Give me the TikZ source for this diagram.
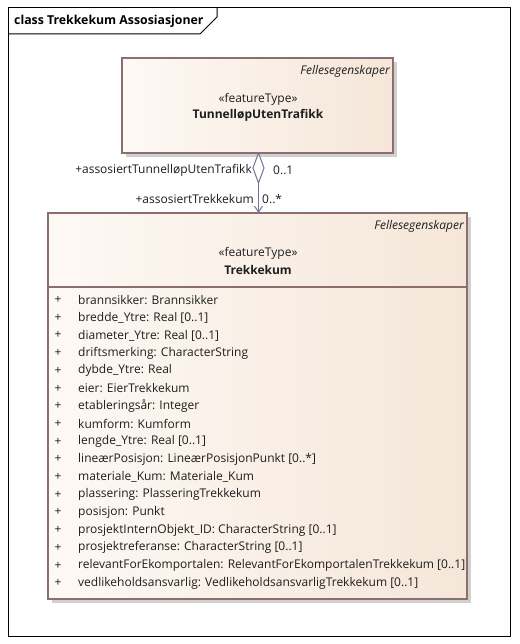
\documentclass[tikz,border=0pt]{standalone}
\usepackage{fontspec}
\setmainfont{Open Sans}
\usetikzlibrary{arrows.meta,shapes.geometric}
\definecolor{boxline}{HTML}{8C6E6E}
\definecolor{fillL}{HTML}{FDF9F5}
\definecolor{fillR}{HTML}{F5E6D8}
\definecolor{conn}{HTML}{6E7790}
\definecolor{txt}{HTML}{1E1E1E}
\definecolor{shadow}{HTML}{D0D0D0}
\tikzset{
  umlbox/.style={draw=boxline, line width=1.1pt, left color=fillL, right color=fillR},
  shadowbox/.style={fill=shadow, draw=none},
  ftext/.style={font=\fontsize{12}{14}\selectfont, text=txt, inner sep=0pt},
  attr/.style={ftext, anchor=west},
  plus/.style={ftext, anchor=center},
}
\begin{document}
\begin{tikzpicture}[x=1pt,y=-1pt]
\useasboundingbox (0,0) rectangle (519,644);
\fill[white] (0,0) rectangle (519,644);
% frame
\draw[black, line width=1pt] (8,8) rectangle (510,636);
\draw[black, line width=1pt] (8,34) -- (200,34) -- (217,17) -- (217,8);
\node[ftext, anchor=west, text=black, font=\fontsize{12.3}{14}\selectfont\bfseries] (title) at (14,21) {class Trekkekum Assosiasjoner};

% top box
\fill[shadowbox] (126,62) rectangle (397,157);
\draw[umlbox] (122,58) rectangle (393,153);
\node[ftext, anchor=east] (tfs) at (390,71) {\itshape Fellesegenskaper};
\node[ftext] (tst) at (258,99) {«featureType»};
\node[ftext] (tnm) at (258,115) {\bfseries TunnelløpUtenTrafikk};

% bottom box
\fill[shadowbox] (52,217) rectangle (471,603);
\draw[umlbox] (48,213) rectangle (467,599);
\draw[boxline, line width=1.1pt] (48,287) -- (467,287);
\coordinate (bt) at (258.5,213);
\node[ftext, anchor=east] (bfs) at (464,226) {\itshape Fellesegenskaper};
\node[ftext] (bst) at (258,253) {«featureType»};
\node[ftext] (bnm) at (258,270) {\bfseries Trekkekum};

% attributes
\foreach \t [count=\i from 0] in {
 {brannsikker: Brannsikker},
 {bredde\_Ytre: Real [0..1]},
 {diameter\_Ytre: Real [0..1]},
 {driftsmerking: CharacterString},
 {dybde\_Ytre: Real},
 {eier: EierTrekkekum},
 {etableringsår: Integer},
 {kumform: Kumform},
 {lengde\_Ytre: Real [0..1]},
 {lineærPosisjon: LineærPosisjonPunkt [0..*]},
 {materiale\_Kum: Materiale\_Kum},
 {plassering: PlasseringTrekkekum},
 {posisjon: Punkt},
 {prosjektInternObjekt\_ID: CharacterString [0..1]},
 {prosjektreferanse: CharacterString [0..1]},
 {relevantForEkomportalen: RelevantForEkomportalenTrekkekum [0..1]},
 {vedlikeholdsansvarlig: VedlikeholdsansvarligTrekkekum [0..1]}}
{
  \node[plus] (p\i) at (58,300+17.7*\i) {+};
  \node[attr] (a\i) at (78,300+17.7*\i) {\t};
}

% association
\coordinate (dtop) at (258.5,153);
\coordinate (dbot) at (258.5,183);
\draw[conn, line width=1pt, fill=white] (dtop) -- (264,168) -- (dbot) -- (253,168) -- cycle;
\draw[conn, line width=1pt, -{Straight Barb[length=6pt,width=8pt]}] (dbot) -- (bt);
\node[ftext, anchor=east] (r1) at (252,170) {+assosiertTunnelløpUtenTrafikk};
\node[ftext, anchor=west] (m1) at (273,170) {0..1};
\node[ftext, anchor=east] (r2) at (254,199) {+assosiertTrekkekum};
\node[ftext, anchor=west] (m2) at (262,199) {0..*};
\end{tikzpicture}
\end{document}
